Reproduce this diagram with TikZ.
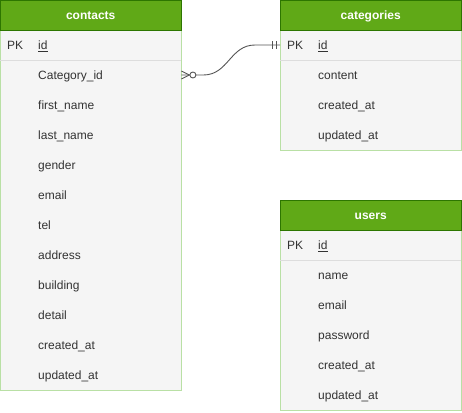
\documentclass[tikz,border=0pt]{standalone}
\usepackage{fontspec}
\setmainfont{Liberation Sans}
\usetikzlibrary{calc}
\definecolor{hdrgreen}{HTML}{60A917}
\definecolor{hdrline}{HTML}{2D7600}
\definecolor{tblline}{HTML}{B9E0A5}
\definecolor{rowfill}{HTML}{F5F5F5}
\definecolor{sepgray}{HTML}{DDDDDD}
\definecolor{txtgray}{HTML}{333333}
\definecolor{relgray}{HTML}{555555}
\begin{document}
\begin{tikzpicture}[x=1pt,y=-1pt,
    tbl/.style={draw=tblline, fill=rowfill, anchor=north west, minimum width=181pt, inner sep=0pt},
    hdr/.style={draw=hdrline, fill=hdrgreen, text=white, font=\fontsize{12}{14}\selectfont\bfseries,
      anchor=north west, minimum width=181pt, minimum height=30pt, inner sep=0pt,
      text height=9.4pt, text depth=0pt},
    row/.style={anchor=west, text=txtgray, font=\fontsize{12}{14}\selectfont, inner xsep=38pt, inner ysep=0pt,
      text width=105pt, text height=9.4pt, text depth=0pt, minimum height=30pt, align=left},
    pk/.style={anchor=west, text=txtgray, font=\fontsize{12}{14}\selectfont, inner sep=0pt,
      text height=9.4pt, text depth=0pt},
    sep/.style={draw=sepgray, line width=1pt},
    rel/.style={draw=relgray, line width=0.9pt}]
  \useasboundingbox (0,0) rectangle (462,412);

  % contacts
  \node[tbl, minimum height=360pt] (contacts) at (0,30) {};
  \node[hdr] (contacts-hdr) at (0,0) {contacts};
  \node[pk] (contacts-pk) at (7,45) {PK};
  \node[row] (contacts-id) at (0,45) {\underline{id}};
  \draw[sep] (contacts-id.south west) -- (contacts-id.south east);
  \foreach \f [count=\i] in {Category\_id, first\_name, last\_name, gender, email, tel,
      address, building, detail, created\_at, updated\_at}
    \node[row] (contacts-\i) at (0,45+30*\i) {\f};

  % categories
  \node[tbl, minimum height=120pt] (categories) at (280,30) {};
  \node[hdr] (categories-hdr) at (280,0) {categories};
  \node[pk] (categories-pk) at (287,45) {PK};
  \node[row] (categories-id) at (280,45) {\underline{id}};
  \draw[sep] (categories-id.south west) -- (categories-id.south east);
  \foreach \f [count=\i] in {content, created\_at, updated\_at}
    \node[row] (categories-\i) at (280,45+30*\i) {\f};

  % users
  \node[tbl, minimum height=180pt] (users) at (280,230) {};
  \node[hdr] (users-hdr) at (280,200) {users};
  \node[pk] (users-pk) at (287,245) {PK};
  \node[row] (users-id) at (280,245) {\underline{id}};
  \draw[sep] (users-id.south west) -- (users-id.south east);
  \foreach \f [count=\i] in {name, email, password, created\_at, updated\_at}
    \node[row] (users-\i) at (280,245+30*\i) {\f};

  % relation contacts -> categories
  \draw[rel] (contacts-1.east) -- ++(22,0)
    .. controls +(25,0) and +(-25,0) .. ($(categories-id.west)+(-25,0)$)
    -- (categories-id.west);
  \draw[rel] ($(contacts-1.east)+(0,-4)$) -- ++(8,4) -- ++(-8,4);
  \draw[rel, fill=white] ($(contacts-1.east)+(11.5,0)$) circle[radius=3pt];
  \draw[rel] ($(categories-id.west)+(-8,-3.5)$) -- ++(0,7);
  \draw[rel] ($(categories-id.west)+(-4,-3.5)$) -- ++(0,7);
\end{tikzpicture}
\end{document}
